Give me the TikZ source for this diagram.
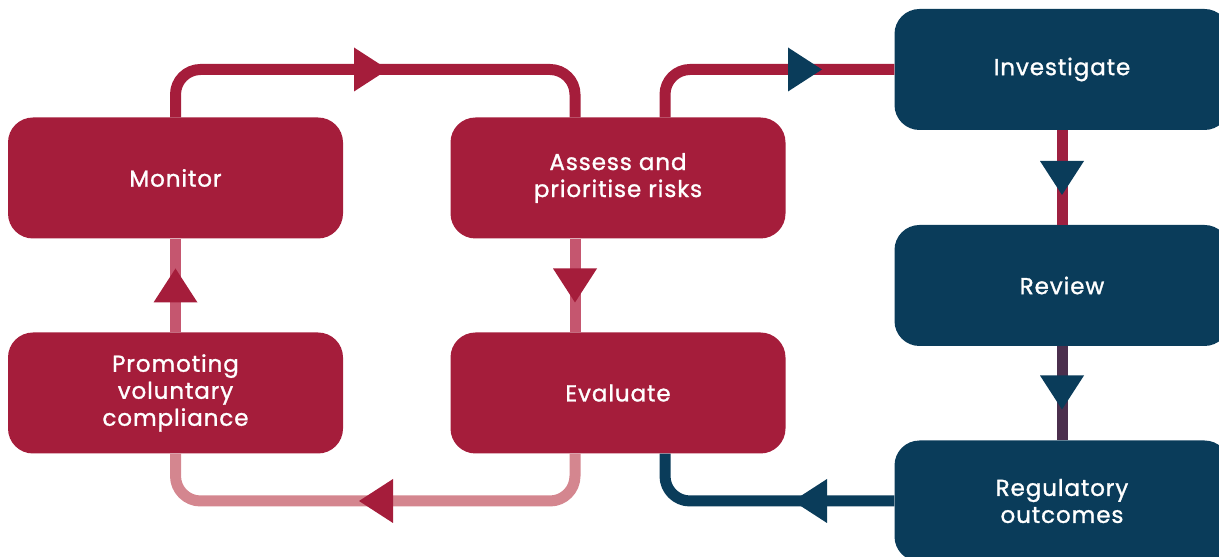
\documentclass[tikz,border=0pt]{standalone}
\usepackage{fontspec}
\setmainfont{Poppins}[FakeBold=1.2,LetterSpace=4]
\usetikzlibrary{calc}
\definecolor{crim}{HTML}{A51D3B}
\definecolor{navy}{HTML}{0A3C5A}
\definecolor{pinklight}{HTML}{D4868F}
\definecolor{pinkmid}{HTML}{C5566F}
\definecolor{crimline}{HTML}{9E2040}
\definecolor{purpline}{HTML}{4B2F4D}
\begin{document}
\begin{tikzpicture}[x=1pt,y=1pt,
  box/.style={rounded corners=25pt, minimum width=335pt, minimum height=121pt,
    text=white, align=center, inner sep=0pt,
    font=\fontsize{23}{27}\selectfont},
  redbox/.style={box, fill=crim},
  bluebox/.style={box, fill=navy},
  conn/.style={line width=11pt, rounded corners=25pt},
  tri/.pic={\fill[#1] (-17pt,22pt) -- (17pt,0pt) -- (-17pt,-22pt) -- cycle;}
]
\useasboundingbox (0,0) rectangle (1219,557);
\clip (0,0) rectangle (1219,557);

\node[redbox] (mon) at (175.5,379) {Monitor};
\node[redbox] (ass) at (618,379) {Assess and\\prioritise risks};
\node[redbox] (pro) at (175.5,164) {Promoting\\voluntary\\compliance};
\node[redbox] (eva) at (618,164) {Evaluate};
\node[bluebox] (inv) at (1062,487.5) {Investigate};
\node[bluebox] (rev) at (1062,271.5) {Review};
\node[bluebox] (reg) at (1062,56) {Regulatory\\outcomes};

\coordinate (c1) at (371,487.5);
\coordinate (c7) at (376,56);

\draw[conn, crim] (mon.north) |- (c1) -| ([xshift=-43pt]ass.north);
\draw[conn, crim] ([xshift=47pt]ass.north) |- (inv.west);
\draw[conn, crimline] (inv.south) -- (rev.north);
\draw[conn, purpline] (rev.south) -- (reg.north);
\draw[conn, pinkmid] (pro.north) -- (mon.south);
\draw[conn, pinkmid] ([xshift=-43pt]ass.south) -- ([xshift=-43pt]eva.north);
\draw[conn, pinklight] ([xshift=-43pt]eva.south) |- (c7) -| (pro.south);
\draw[conn, navy] ([xshift=47pt]eva.south) |- (reg.west);

\pic at (c1) {tri=crim};
\pic at (805,487.5) {tri=navy};
\pic[rotate=-90] at (1062,379) {tri=navy};
\pic[rotate=-90] at (1062,164.5) {tri=navy};
\pic[rotate=90] at (175.5,271.5) {tri=crim};
\pic[rotate=-90] at (575,271.5) {tri=crim};
\pic[rotate=180] at (c7) {tri=crim};
\pic[rotate=180] at (810,56) {tri=navy};
\end{tikzpicture}
\end{document}
